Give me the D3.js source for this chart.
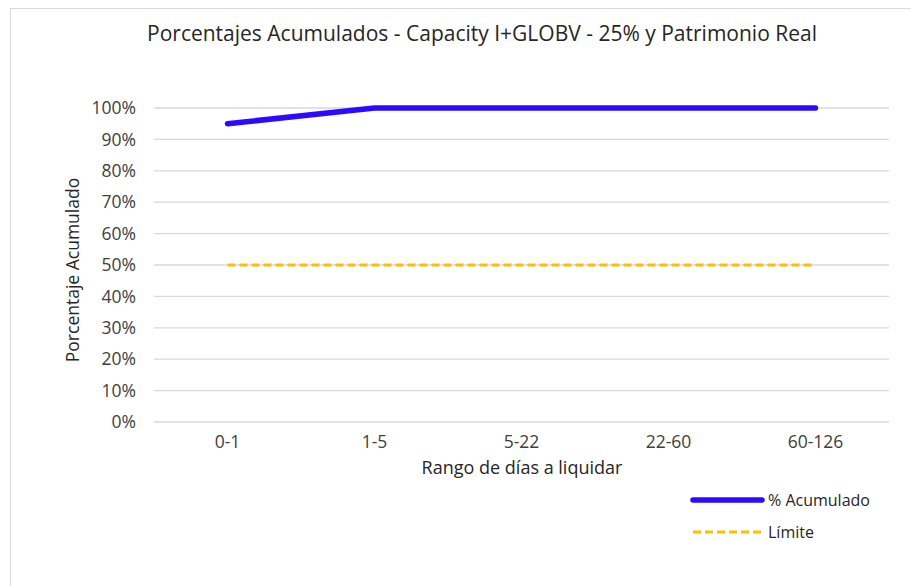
<!DOCTYPE html>
<html><head><meta charset="utf-8">
<script src="https://cdn.jsdelivr.net/npm/d3@7"></script>
<style>body{margin:0;background:#fff;}svg{display:block;font-family:"Open Sans",Lato,sans-serif;}</style>
</head><body>
<svg id="c" width="911" height="586"></svg>
<script>
const categories = ["0-1","1-5","5-22","22-60","60-126"];
const acumulado = [0.95,1,1,1,1];
const limite = [0.5,0.5,0.5,0.5,0.5];
const yTicks = [0,0.1,0.2,0.3,0.4,0.5,0.6,0.7,0.8,0.9,1];
const title = "Porcentajes Acumulados - Capacity I+GLOBV - 25% y Patrimonio Real";

const svg = d3.select("#c");
svg.append("rect").attr("x",10.5).attr("y",8.5).attr("width",930).attr("height",600)
  .attr("fill","#fff").attr("stroke","#d9d9d9");

const m = {l:154, r:889, t:108, b:422};
const x = d3.scaleBand().domain(categories).range([m.l,m.r]);
const y = d3.scaleLinear().domain([0,1]).range([m.b,m.t]);

svg.append("g").selectAll("line").data(yTicks).join("line")
  .attr("x1",m.l).attr("x2",m.r).attr("y1",d=>y(d)).attr("y2",d=>y(d))
  .attr("stroke","#d9d9d9").attr("stroke-width",1.3);

const yAxis = svg.append("g").attr("transform",`translate(${m.l-15},0)`)
  .call(d3.axisLeft(y).tickValues(yTicks).tickFormat(d3.format(".0%")).tickSize(0));
yAxis.select(".domain").remove();
yAxis.selectAll("text").attr("font-size",17.5).attr("fill","#404040").attr("font-family","'Open Sans',sans-serif").attr("dx",0);

const xAxis = svg.append("g").attr("transform",`translate(0,${m.b+11})`)
  .call(d3.axisBottom(x).tickSize(0));
xAxis.select(".domain").remove();
xAxis.selectAll("text").attr("font-size",17.5).attr("fill","#404040").attr("font-family","'Open Sans',sans-serif");

const cx = d=>x(d)+x.bandwidth()/2;
const line = d3.line().x((d,i)=>cx(categories[i])).y(d=>y(d));

svg.append("path").datum(limite).attr("d",line).attr("fill","none")
  .attr("stroke","#ffc000").attr("stroke-width",2.8).attr("stroke-dasharray","8,4");
svg.append("path").datum(acumulado).attr("d",line).attr("fill","none")
  .attr("stroke","#2b0bff").attr("stroke-width",5.5).attr("stroke-linecap","round").attr("stroke-linejoin","round");

svg.append("text").attr("x",482).attr("y",41).attr("text-anchor","middle")
  .attr("font-size",21).attr("fill","#262626").text(title);
svg.append("text").attr("x",522).attr("y",474).attr("text-anchor","middle")
  .attr("font-size",18).attr("fill","#262626").text("Rango de días a liquidar");
svg.append("text").attr("transform","translate(79,270) rotate(-90)").attr("text-anchor","middle")
  .attr("font-size",17.5).attr("fill","#262626").text("Porcentaje Acumulado");

const leg = [{n:"% Acumulado",c:"#2b0bff",w:5.5,da:null,y:500},{n:"Límite",c:"#ffc000",w:2.8,da:"8,4",y:532}];
const lg = svg.append("g");
leg.forEach(d=>{
  lg.append("line").attr("x1",693).attr("x2",762).attr("y1",d.y).attr("y2",d.y)
    .attr("stroke",d.c).attr("stroke-width",d.w).attr("stroke-dasharray",d.da)
    .attr("stroke-linecap",d.da?null:"round");
  lg.append("text").attr("x",768).attr("y",d.y+5.5).attr("font-size",16).attr("fill","#262626").text(d.n);
});
</script>
</body></html>
